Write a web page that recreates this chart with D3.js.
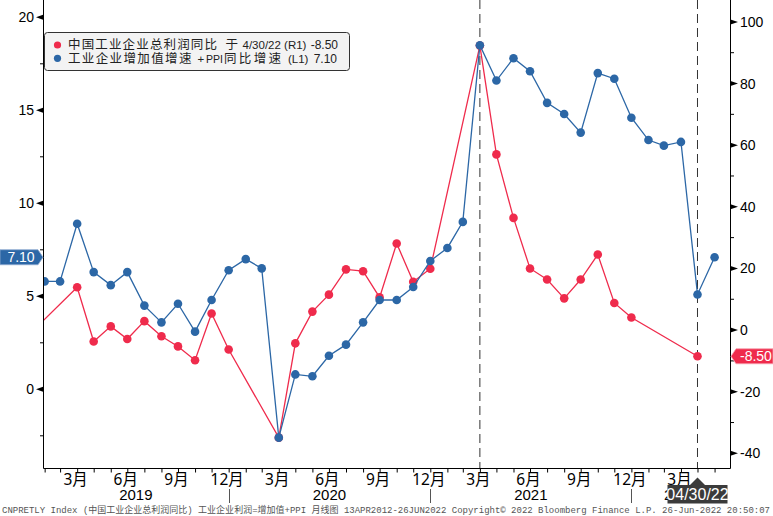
<!DOCTYPE html>
<meta charset="utf-8">
<title>工业企业利润 vs 增加值+PPI</title>
<style>
body { margin: 0; background: #fff; }
svg { display: block; font-family: "Liberation Sans", "Noto Sans CJK SC", sans-serif; }
.cjk { font-family: "Noto Sans", "Noto Sans CJK SC", sans-serif; }
</style>
<svg width="773" height="516"></svg>
<script src="https://d3js.org/d3.v7.min.js"></script>
<script>
// monthly series, first month of each array given in start*
const blueStart = "2019-01";
const blueVals = [
  5.8, 5.8, 8.9, 6.3, 5.6, 6.3, 4.5, 3.6, 4.6, 3.1, 4.8, 6.4,
  7.0, 6.5, -2.6, 0.8, 0.7, 1.8, 2.4, 3.6, 4.8, 4.8, 5.5, 6.9,
  7.6, 9.0, 18.5, 16.6, 17.8, 17.1, 15.4, 14.8, 13.8, 17.0, 16.7, 14.6,
  13.4, 13.1, 13.3, 5.1, 7.1
];
const redStart = "2018-12";
const redVals = [
  -1.9,
  null, null, 13.9, -3.7, 1.2, -2.9, 2.9, -2.0, -5.3, -9.8, 5.4, -6.3,
  null, null, -34.9, -4.3, 6.0, 11.5, 19.7, 19.1, 10.6, 28.1, 15.7, 19.9,
  null, null, 92.3, 57.0, 36.4, 20.0, 16.4, 10.3, 16.4, 24.5, 8.8, 4.1,
  null, null, null, -8.5
];
const leftTicks = [0, 5, 10, 15, 20];
const rightTicks = [-40, -20, 0, 20, 40, 60, 80, 100];
const quarterLabels = {3: "3月", 6: "6月", 9: "9月", 12: "12月"};
const years = ["2019", "2020", "2021", "2022"];
const markerDates = ["2021-03", "2022-04"];
// legend pieces: [text, x start, width (0 = natural), cjk?]
const redLegend = [["中国工业企业总利润同比", 68, 149, true], ["于", 225.5, 0, true], ["4/30/22 (R1)", 242.5, 0, false]];
const blueLegend = [["工业企业增加值增速", 68, 123.5, true], ["+", 197.5, 0, false], ["PPI", 206, 0, false],
  ["同比增速", 224, 57, true], ["(L1)", 288, 0, false]];
const footer = "CNPRETLY Index (中国工业企业总利润同比) 工业企业利润=增加值+PPI  月线图 13APR2012-26JUN2022  Copyright© 2022 Bloomberg Finance L.P.    26-Jun-2022 20:50:07";

const RED = "#ef2b4c", BLUE = "#2c67a6";

function monthEnd(s) {
  const [y, m] = s.split("-").map(Number);
  return d3.timeDay.offset(new Date(y, m, 1), -1);
}
function series(start, vals) {
  const first = d3.timeDay.offset(monthEnd(start), 1);
  return vals.map((v, i) => ({date: d3.timeDay.offset(d3.timeMonth.offset(first, i), -1), value: v}))
    .filter(d => d.value !== null);
}
const blue = series(blueStart, blueVals);
const red = series(redStart, redVals);

const L = 43, R = 730, T = 0, B = 468;
const svg = d3.select("svg");
const x = d3.scaleTime().domain([new Date(2019, 0, 28), new Date(2022, 5, 28)]).range([L, R]);
const yL = d3.scaleLinear().domain([-4.231, 20.93]).range([B, T]);
const yR = d3.scaleLinear().domain([-44.75, 107.1]).range([B, T]);

svg.append("clipPath").attr("id", "clip").append("rect")
  .attr("x", L).attr("y", T).attr("width", R - L).attr("height", B - T);

// dashed date markers
svg.append("g").selectAll("line").data(markerDates).enter().append("line")
  .attr("x1", d => x(monthEnd(d))).attr("x2", d => x(monthEnd(d)))
  .attr("y1", T).attr("y2", B)
  .attr("stroke", "#333").attr("stroke-width", 1).attr("stroke-dasharray", "9,5");

const plot = svg.append("g").attr("clip-path", "url(#clip)");
plot.append("path").datum(red)
  .attr("fill", "none").attr("stroke", RED).attr("stroke-width", 1.3)
  .attr("d", d3.line().x(d => x(d.date)).y(d => yR(d.value)));
plot.append("g").selectAll("circle").data(red).enter().append("circle")
  .attr("cx", d => x(d.date)).attr("cy", d => yR(d.value)).attr("r", 4.3).attr("fill", RED);
plot.append("path").datum(blue)
  .attr("fill", "none").attr("stroke", BLUE).attr("stroke-width", 1.3)
  .attr("d", d3.line().x(d => x(d.date)).y(d => yL(d.value)));
plot.append("g").selectAll("circle").data(blue).enter().append("circle")
  .attr("cx", d => x(d.date)).attr("cy", d => yL(d.value)).attr("r", 4.3).attr("fill", BLUE);

// frame
svg.append("path").attr("fill", "none").attr("stroke", "#000").attr("stroke-width", 1)
  .attr("d", `M${L + 0.5},${T}V${B + 0.5}H${R + 0.5}V${T}`);

// left axis
const gl = svg.append("g");
gl.selectAll(".minor").data(d3.range(-2.5, 20, 5)).enter().append("line")
  .attr("x1", L - 3).attr("x2", L).attr("y1", d => yL(d)).attr("y2", d => yL(d)).attr("stroke", "#000");
gl.selectAll(".tri").data(leftTicks).enter().append("path")
  .attr("d", d => `M${L},${yL(d) - 2.5}L${L - 7},${yL(d)}L${L},${yL(d) + 2.5}Z`).attr("fill", "#000");
gl.selectAll("text").data(leftTicks).enter().append("text")
  .attr("x", 34).attr("y", d => yL(d) + 5).attr("text-anchor", "end")
  .attr("font-size", 14).text(d => d);

// right axis
const gr = svg.append("g");
gr.selectAll(".minor").data(d3.range(-30, 110, 20)).enter().append("line")
  .attr("x1", R).attr("x2", R + 4).attr("y1", d => yR(d)).attr("y2", d => yR(d)).attr("stroke", "#000");
gr.selectAll(".tri").data(rightTicks).enter().append("path")
  .attr("d", d => `M${R + 0.5},${yR(d) - 2.5}L${R + 8},${yR(d)}L${R + 0.5},${yR(d) + 2.5}Z`).attr("fill", "#000");
gr.selectAll("text").data(rightTicks).enter().append("text")
  .attr("x", 740).attr("y", d => yR(d) + 5).attr("text-anchor", "start")
  .attr("font-size", 14).text(d => d);

// bottom axis: ticks at month ends, labels at quarter ends
const months = d3.timeMonth.range(new Date(2019, 0, 1), new Date(2022, 5, 1))
  .map(d => d3.timeDay.offset(d3.timeMonth.offset(d, 1), -1));
const xAxis = d3.axisBottom(x).tickValues(months).tickSize(4).tickPadding(1)
  .tickFormat(d => quarterLabels[d.getMonth() + 1] || "");
const gx = svg.append("g").attr("transform", `translate(0,${B + 0.5})`).call(xAxis);
gx.select(".domain").remove();
gx.selectAll(".tick text").attr("class", "cjk").attr("font-size", 15.5).attr("fill", "#000").attr("dx", -2);
gx.selectAll(".tick line").attr("stroke", "#000");

// year labels and separators
const yearEnds = years.map(y => new Date(+y, 11, 31));
svg.append("g").selectAll("line").data(yearEnds.slice(0, 3)).enter().append("line")
  .attr("x1", d => Math.round(x(d)) + 0.5).attr("x2", d => Math.round(x(d)) + 0.5)
  .attr("y1", 489).attr("y2", 503).attr("stroke", "#555");
svg.append("g").selectAll("text").data(years).enter().append("text")
  .attr("x", (d, i) => (Math.max(L, x(new Date(+d, 0, 0))) + Math.min(R, x(yearEnds[i]))) / 2)
  .attr("y", 500).attr("text-anchor", "middle").attr("font-size", 15).text(d => d);

// date flag
const fx = x(monthEnd(markerDates[1]));
svg.append("path").attr("d", `M${fx},477.5L${fx + 7.5},485L${fx - 7.5},485Z`).attr("fill", "#3b3b3b");
svg.append("rect").attr("x", 667.5).attr("y", 485).attr("width", 60).attr("height", 18.5).attr("fill", "#3b3b3b");
svg.append("text").attr("x", 697.5).attr("y", 500).attr("text-anchor", "middle")
  .attr("font-size", 16).attr("fill", "#fff").text("04/30/22");

// last value tags
const bLast = blue[blue.length - 1].value, rLast = red[red.length - 1].value;
const by = yL(bLast), ry = yR(rLast);
svg.append("path").attr("d", `M0,${by - 7.5}H38L43,${by}L38,${by + 7.5}H0Z`)
  .attr("fill", BLUE).attr("stroke", "#8eaad0").attr("stroke-width", 0.8);
svg.append("text").attr("x", 21).attr("y", by + 5).attr("text-anchor", "middle")
  .attr("font-size", 14).attr("fill", "#fff").text(bLast.toFixed(2));
svg.append("path").attr("d", `M731,${ry}L736,${ry - 7.5}H773V${ry + 7.5}H736Z`)
  .attr("fill", RED).attr("stroke", "#f7a0ae").attr("stroke-width", 0.8);
svg.append("text").attr("x", 740).attr("y", ry + 5).attr("text-anchor", "start")
  .attr("font-size", 14).attr("fill", "#fff").text(rLast.toFixed(2));

// legend
const lg = svg.append("g");
lg.append("rect").attr("x", 44.5).attr("y", 32.5).attr("width", 305).attr("height", 38).attr("rx", 3)
  .attr("fill", "#f3f3f3").attr("stroke", "#333");
const rows = [
  {parts: redLegend, color: RED, val: rLast.toFixed(2), end: 338},
  {parts: blueLegend, color: BLUE, val: bLast.toFixed(2), end: 337}
];
rows.forEach((r, i) => {
  const cy = 45 + i * 13.3;
  lg.append("circle").attr("cx", 57.5).attr("cy", cy).attr("r", 3.6).attr("fill", r.color);
  r.parts.forEach(([t, px, w, cjk]) => {
    const tx = lg.append("text").attr("x", px).attr("y", cy + 4.3)
      .attr("font-size", cjk ? 12.5 : (t === "PPI" ? 10.5 : 11.5)).attr("fill", "#222").text(t);
    if (cjk) tx.attr("class", "cjk");
    if (w) tx.attr("textLength", w).attr("lengthAdjust", "spacing");
  });
  lg.append("text").attr("x", r.end).attr("y", cy + 4.3).attr("font-size", 12).attr("text-anchor", "end")
    .attr("fill", "#222").text(r.val);
});

// footer
svg.append("text").attr("x", 2).attr("y", 513).attr("font-family", "Liberation Mono, Noto Sans CJK SC, monospace")
  .attr("font-size", 9).attr("fill", "#555").attr("textLength", 768).attr("lengthAdjust", "spacing").text(footer);
</script>
